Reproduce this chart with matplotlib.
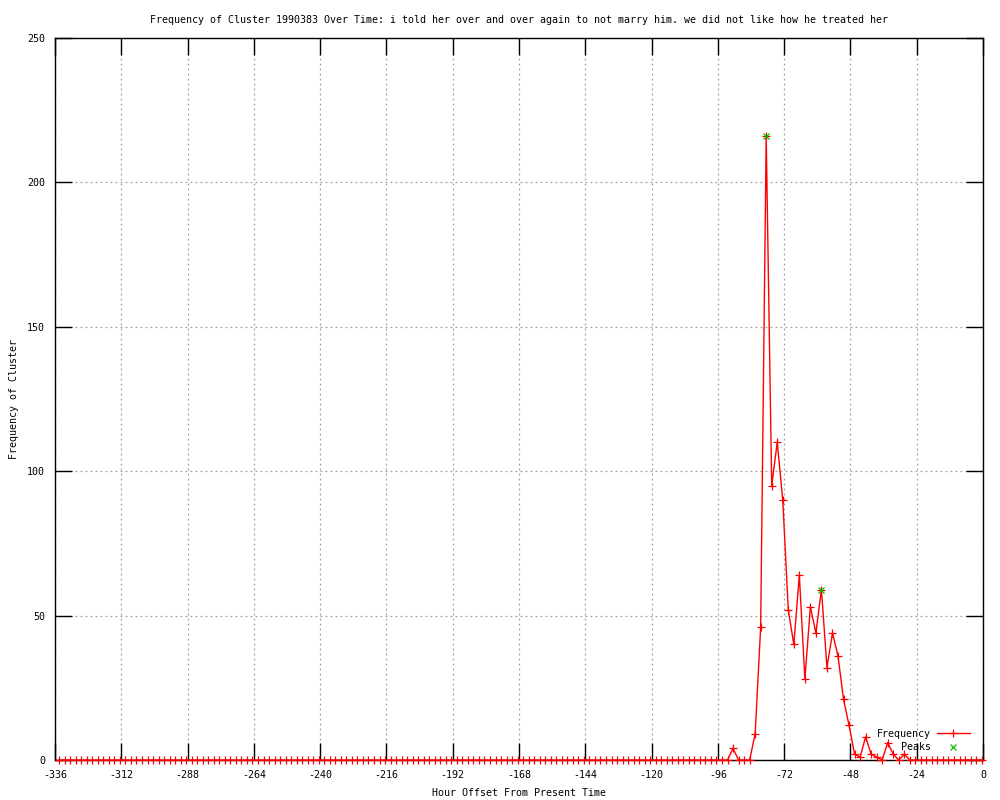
import numpy as np
import matplotlib
matplotlib.use("Agg")
import matplotlib.pyplot as plt

plt.rcParams['font.family'] = ['DejaVu Sans Mono']

title = "Frequency of Cluster 1990383 Over Time: i told her over and over again to not marry him. we did not like how he treated her"

# hour offsets (every 2 hours)
hours = np.arange(-334.5, 0, 2.0)
# non-zero frequencies (hour -> count); everything else is zero
active_hours = [-90.5, -88.5, -86.5, -84.5, -82.5, -80.5, -78.5, -76.5, -74.5, -72.5,
                -70.5, -68.5, -66.5, -64.5, -62.5, -60.5, -58.5, -56.5, -54.5, -52.5,
                -50.5, -48.5, -46.5, -44.5, -42.5, -40.5, -38.5, -36.5, -34.5, -32.5,
                -30.5, -28.5]
active_counts = [4, 0, 0, 0, 9, 46, 216, 95, 110, 90,
                 52, 40, 64, 28, 53, 44, 59, 32, 44, 36,
                 21, 12, 2, 1, 8, 2, 1, 0, 6, 2,
                 0, 2]
peak_hours = [-78.5, -58.5]
peak_counts = [216, 59]

freq = np.zeros_like(hours)
for h, c in zip(active_hours, active_counts):
    freq[np.isclose(hours, h)] = c

xticks = list(range(-336, 1, 24))
yticks = [0, 50, 100, 150, 200, 250]

FS = 7.2

fig = plt.figure(figsize=(10, 8), dpi=100)
ax = fig.add_axes([0.055, 0.05, 0.928, 0.9025])

ax.plot(hours, freq, color='#ff0000', lw=1.0, marker='+', ms=5.5, mew=0.9,
        label='Frequency', clip_on=False, zorder=3)
ax.plot(peak_hours, peak_counts, ls='none', marker='x', color='#00c000', ms=5,
        mew=0.9, label='    Peaks', zorder=4)

ax.set_xlim(-336, 0)
ax.set_ylim(0, 250)
ax.set_xticks(xticks)
ax.set_yticks(yticks)
ax.set_xticklabels([str(t) for t in xticks])
ax.grid(True, color='#a0a0a0', ls=(0, (1.5, 2.5)), lw=0.9)
ax.tick_params(direction='in', length=12, width=1, top=True, right=True,
               labelsize=FS, pad=7, color='black')
for s in ax.spines.values():
    s.set_linewidth(1.0)

ax.set_title(title, fontsize=FS, pad=11)
ax.set_xlabel('Hour Offset From Present Time', fontsize=FS, labelpad=6)
ax.set_ylabel('Frequency of Cluster', fontsize=FS)
ax.yaxis.set_label_coords(-0.039, 0.5)

leg = ax.legend(loc='lower right', markerfirst=False, frameon=False, fontsize=FS,
                handlelength=3.3, handletextpad=0.6, borderaxespad=0.0,
                labelspacing=0.35, bbox_to_anchor=(0.99, 0.005))

fig.savefig('out.png', dpi=100)
